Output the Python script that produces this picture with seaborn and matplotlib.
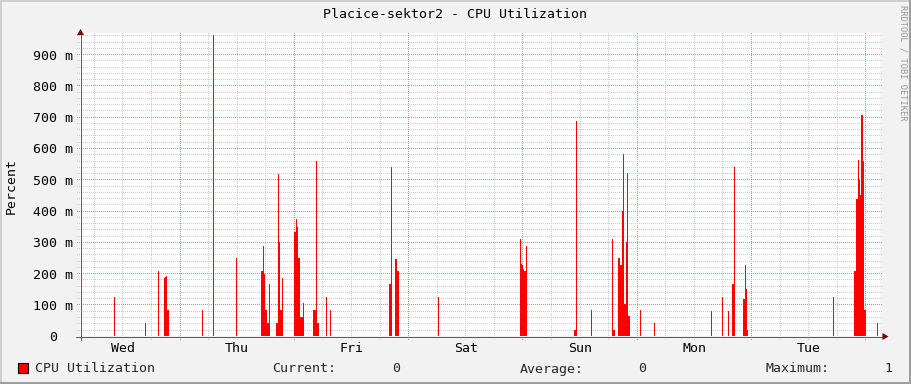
import numpy as np
import pandas as pd
import matplotlib
matplotlib.use("Agg")
import matplotlib.pyplot as plt
import seaborn as sns
from matplotlib.patches import Rectangle, Polygon
from matplotlib.lines import Line2D
from matplotlib.transforms import ScaledTranslation, IdentityTransform

# ---------------- data ----------------
title = "Placice-sektor2 - CPU Utilization"
series_name = "CPU Utilization"
y_label = "Percent"
watermark = "RRDTOOL / TOBI OETIKER"

day_labels = ["Wed", "Thu", "Fri", "Sat", "Sun", "Mon", "Tue"]
day_label_hours = [9, 33, 57, 81, 105, 129, 153]
midnight_hours = [21, 45, 69, 93, 117, 141, 165]
six_hour_marks = list(range(3, 168, 6))

y_tick_values = [0, 0.1, 0.2, 0.3, 0.4, 0.5, 0.6, 0.7, 0.8, 0.9]
y_tick_labels = ["0", "100 m", "200 m", "300 m", "400 m", "500 m",
                 "600 m", "700 m", "800 m", "900 m"]
y_minor_step = 0.02

# hours since start of the 7-day window, and CPU utilization (fraction)
spike_hours = [
    7.14, 13.65, 16.38, 17.64, 17.85, 18.06, 18.27, 18.48, 25.62, 27.93, 32.76,
    38.01, 38.22, 38.43, 38.64, 38.85, 39.06, 39.27, 39.48, 39.69,
    41.15, 41.36, 41.57, 41.78, 41.99, 42.20, 42.41,
    44.93, 45.14, 45.35, 45.56, 45.77, 45.98, 46.19, 46.40, 46.61, 46.82,
    48.92, 49.13, 49.34, 49.55, 49.76, 49.97, 51.65, 52.49,
    64.88, 65.09, 65.30, 66.14, 66.35, 66.56, 66.77, 75.17,
    92.39, 92.60, 92.81, 93.02, 93.23, 93.44, 93.65,
    103.73, 103.94, 104.15, 107.30, 111.71, 111.92, 112.13,
    112.97, 113.18, 113.39, 113.60, 113.81, 114.02, 114.23, 114.44, 114.65,
    114.86, 115.07, 115.28, 117.59, 120.52,
    132.49, 134.80, 136.06, 136.90, 137.11, 137.32,
    139.21, 139.42, 139.63, 139.84, 140.05, 158.11,
    162.52, 162.73, 162.94, 163.15, 163.36, 163.57, 163.78, 163.99, 164.20,
    164.41, 164.62, 164.83, 167.35,
]
spike_values = [
    0.124, 0.043, 0.208, 0.187, 0.190, 0.193, 0.083, 0.083, 0.083, 0.962, 0.250,
    0.208, 0.208, 0.290, 0.200, 0.083, 0.083, 0.042, 0.042, 0.167,
    0.042, 0.042, 0.519, 0.300, 0.083, 0.083, 0.186,
    0.333, 0.333, 0.375, 0.350, 0.250, 0.250, 0.062, 0.062, 0.062, 0.105,
    0.083, 0.083, 0.083, 0.560, 0.042, 0.042, 0.125, 0.083,
    0.167, 0.167, 0.540, 0.247, 0.247, 0.208, 0.208, 0.125,
    0.310, 0.230, 0.227, 0.215, 0.208, 0.208, 0.290,
    0.019, 0.019, 0.689, 0.083, 0.310, 0.019, 0.019,
    0.250, 0.250, 0.227, 0.227, 0.400, 0.583, 0.103, 0.103, 0.300,
    0.522, 0.064, 0.064, 0.083, 0.042,
    0.080, 0.125, 0.080, 0.167, 0.167, 0.540,
    0.119, 0.119, 0.227, 0.150, 0.019, 0.125,
    0.208, 0.208, 0.439, 0.439, 0.564, 0.500, 0.450, 0.708, 0.708,
    0.560, 0.083, 0.083, 0.042,
]

current_value = "0"
average_value = "0"
maximum_value = "1"

# ---------------- style ----------------
W, H = 911, 384
BACK = "#F2F2F2"
GRID_RGB = (204, 204, 204)
MGRID_RGB = (232, 128, 128)
AXIS = "#5A5A5A"
ARROW = "#7F0000"
MONO = "DejaVu Sans Mono"
FS = 9.5
PX = 0.72  # one pixel in points at 100 dpi

sns.set_theme(style="white")
plt.rcParams["font.family"] = [MONO, "DejaVu Sans"]

fig = plt.figure(figsize=(W / 100, H / 100), dpi=100, facecolor=BACK)

def fx(px):
    return px / W

def fy(py):
    return 1 - py / H

x0, x1 = 80, 880
y_bot, y_top = 336.3, 33.0
ax = fig.add_axes([fx(x0), fy(y_bot), fx(x1) - fx(x0), fy(y_top) - fy(y_bot)])
ymax = 0.969

# data area: one bin per pixel column
bw = 168 / 800
df = pd.DataFrame({"hour": np.array(spike_hours) + bw / 2,
                   "value": np.array(spike_values, dtype=float)})
sns.histplot(data=df, x="hour", weights="value", binwidth=bw, binrange=(0, 168),
             element="bars", fill=True, color="#FF0000", alpha=1.0,
             linewidth=0, edgecolor="#FF0000", antialiased=False, ax=ax)
ax.set_xlim(0, 168)
ax.set_ylim(0, ymax)

# dotted grid as a pixel overlay, positions taken from the axes scales
ident = IdentityTransform()
grid_img = np.zeros((H, W, 4), dtype=float)
row_top, row_zero = 33, 336

def put(r, c, rgb):
    if 0 <= r < H and 0 <= c < W:
        grid_img[r, c, :3] = np.array(rgb) / 255.0
        grid_img[r, c, 3] = 1.0

for h in six_hour_marks:
    col = int(np.floor(ax.transData.transform((h, 0))[0]))
    rgb = MGRID_RGB if h in midnight_hours else GRID_RGB
    for r in range(row_top, row_zero + 4, 2):
        put(r, col, rgb)
n_minor = int(round(ymax / y_minor_step))
for i in range(1, n_minor + 1):
    v = i * y_minor_step
    row = H - 1 - int(np.floor(ax.transData.transform((0, v))[1]))
    rgb = MGRID_RGB if i % 5 == 0 else GRID_RGB
    for c in range(x0 - 3, x1 + 3, 2):
        put(row, c, rgb)

fig.add_artist(Rectangle((x0, H - row_zero), x1 - x0, row_zero - row_top,
                         transform=ident, facecolor="white", lw=0, zorder=0.1))
fig.figimage(grid_img, xo=0, yo=0, origin="upper", zorder=0.5)
ax.set_zorder(1)
ax.patch.set_alpha(0.0)

# axes, ticks
for s in ax.spines.values():
    s.set_visible(False)
ax.set_xticks(day_label_hours)
ax.set_xticklabels(day_labels)
ax.set_yticks(y_tick_values)
ax.set_yticklabels(y_tick_labels)
ax.tick_params(axis="x", length=0, pad=4.3, labelsize=FS, colors="black")
ax.tick_params(axis="y", length=0, pad=5.0, labelsize=FS, colors="black")
for lab in ax.get_yticklabels():
    lab.set_fontfamily(MONO)
    if lab.get_text() == "0":
        lab.set_transform(lab.get_transform() + ScaledTranslation(-16 / 100, 0, fig.dpi_scale_trans))
for lab in ax.get_xticklabels():
    lab.set_fontfamily(MONO)
ax.set_xlabel("")
ax.set_ylabel("")
ax.grid(False)

# axis lines + arrows (pixel space)
disp_zero = H - row_zero
fig.add_artist(Line2D([76, 884], [disp_zero - 0.5, disp_zero - 0.5], transform=ident,
                      color=AXIS, lw=PX, zorder=3))
fig.add_artist(Line2D([x0 + 0.5, x0 + 0.5], [disp_zero - 4, H - 31], transform=ident,
                      color=AXIS, lw=PX, zorder=3))
fig.add_artist(Polygon([[77, H - 35], [84, H - 35], [80.5, H - 29]], closed=True,
                       transform=ident, color=ARROW, lw=0, zorder=3))
fig.add_artist(Polygon([[882.5, disp_zero + 3], [882.5, disp_zero - 4],
                        [888.5, disp_zero - 0.5]], closed=True,
                       transform=ident, color=ARROW, lw=0, zorder=3))

# texts
fig.text(fx(455), fy(18.5), title, ha="center", va="baseline", fontsize=FS,
         family=MONO, color="black")
fig.text(fx(11), fy(186), y_label, ha="center", va="center", rotation=90,
         fontsize=FS, family=MONO, color="black")
fig.text(fx(903), fy(5), watermark, ha="center", va="top", rotation=270,
         fontsize=6.2, family=MONO, color="#959595")

# legend row
fig.add_artist(Rectangle((fx(17.5), fy(373)), fx(10), 10 / H, facecolor="#FF0000",
                         edgecolor="black", lw=0.8))
fig.text(fx(35), fy(372.5), series_name, ha="left", va="baseline", fontsize=FS, family=MONO)
fig.text(fx(272.5), fy(372.5), "Current:", ha="left", va="baseline", fontsize=FS, family=MONO)
fig.text(fx(400), fy(372.5), current_value, ha="right", va="baseline", fontsize=FS, family=MONO)
fig.text(fx(519.5), fy(372.5), "Average:", ha="left", va="baseline", fontsize=FS, family=MONO)
fig.text(fx(646), fy(372.5), average_value, ha="right", va="baseline", fontsize=FS, family=MONO)
fig.text(fx(765.5), fy(372.5), "Maximum:", ha="left", va="baseline", fontsize=FS, family=MONO)
fig.text(fx(892), fy(372.5), maximum_value, ha="right", va="baseline", fontsize=FS, family=MONO)

# 3D frame
fig.add_artist(Rectangle((0, 1 - 2 / H), 1, 2 / H, facecolor="#CFCFCF", lw=0))
fig.add_artist(Rectangle((0, 0), 2 / W, 1, facecolor="#CFCFCF", lw=0))
fig.add_artist(Rectangle((1 - 2 / W, 0), 2 / W, 1, facecolor="#9E9E9E", lw=0))
fig.add_artist(Rectangle((0, 0), 1, 2 / H, facecolor="#9E9E9E", lw=0))

fig.savefig("out.png", dpi=100, facecolor=BACK)
